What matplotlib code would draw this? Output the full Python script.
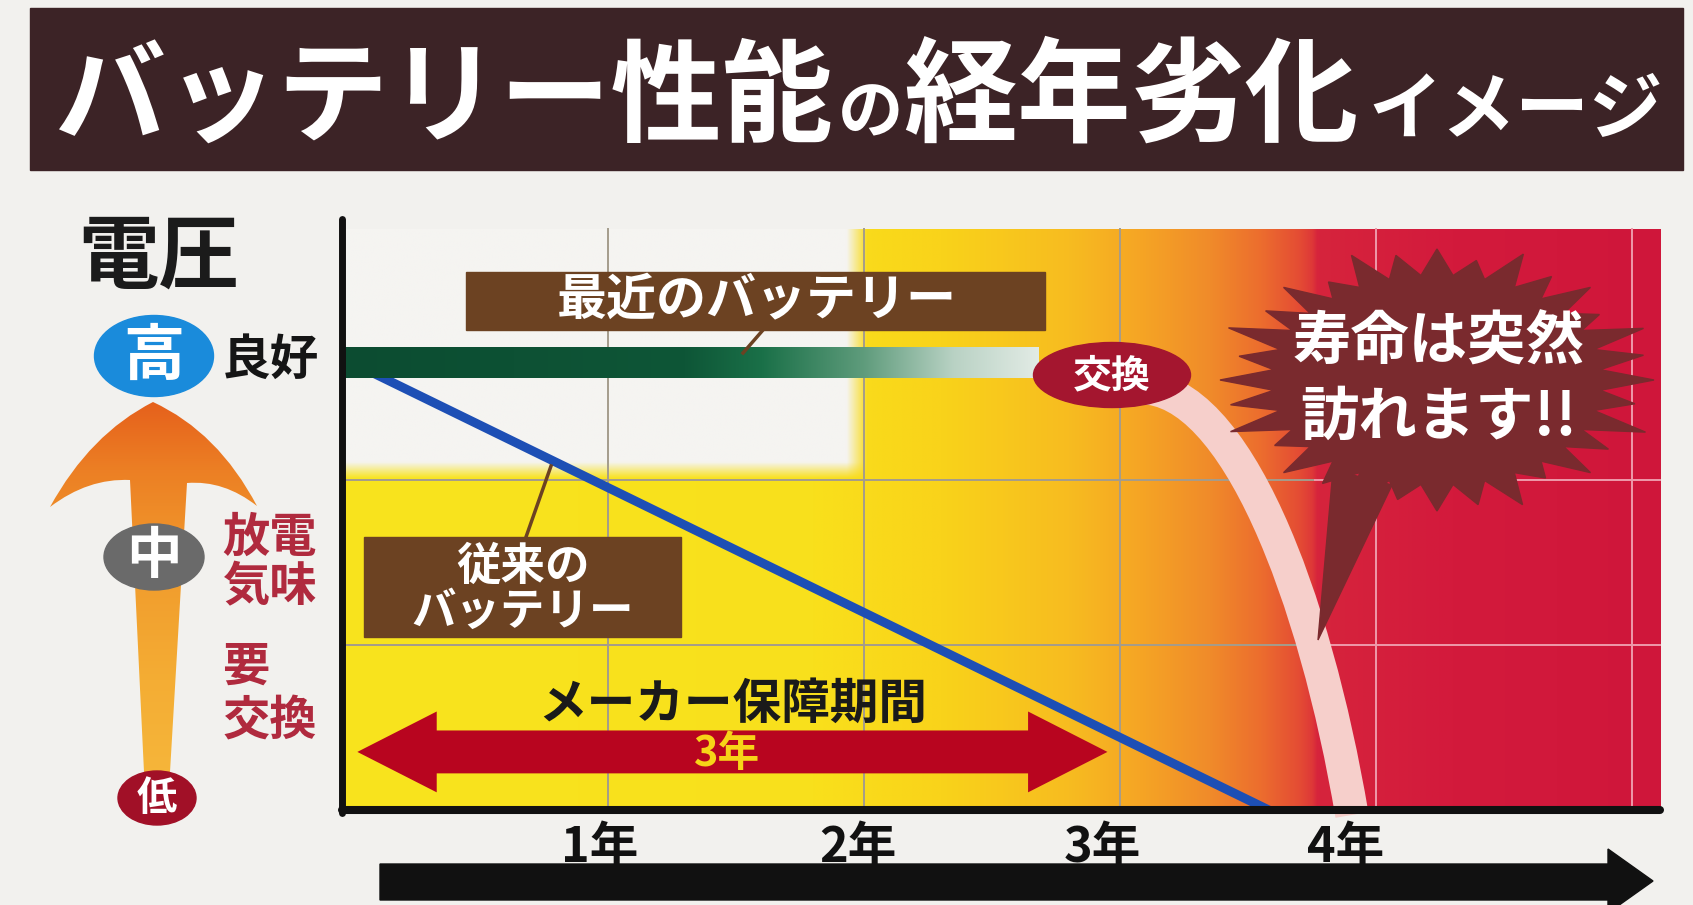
import numpy as np
import matplotlib
matplotlib.use('Agg')
import matplotlib.pyplot as plt
from matplotlib.patches import Rectangle, Ellipse, Polygon, PathPatch
from matplotlib.path import Path
from matplotlib.colors import to_rgb

plt.rcParams['font.family'] = ['Noto Sans CJK JP', 'DejaVu Sans']

W, H = 1693, 905

# ---- data (years on x, voltage level on y) ----
years = [1, 2, 3, 4]
year_labels = ['1年', '2年', '3年', '4年']
year_label_x = [0.965, 1.975, 2.93, 3.88]
grid_years = [1, 2, 3, 4, 5]
volt_grid = [1, 2]

new_level = 2.71           # 最近のバッテリー: stays flat...
new_end = 2.68             # ...until the 交換 point
old_x = [0, 3.58]          # 従来のバッテリー: steady decline
old_y = [2.71, 0.0]
# sudden drop after 交換: cubic curve (start, control, control, end)
drop_x = [3.08, 3.45, 3.76, 3.905]
drop_y = [2.56, 2.56, 1.30, -0.03]
warranty = [0.02, 2.95]    # メーカー保障期間 3年
warranty_v = 0.352

x_lo, x_hi = -0.04, 5.11
v_top = 3.52

fig = plt.figure(figsize=(W / 100, H / 100), dpi=100, facecolor='#f2f1ee')

# pixel-coordinate background axes
bg = fig.add_axes([0, 0, 1, 1], zorder=0)
bg.set_xlim(0, W)
bg.set_ylim(H, 0)
bg.axis('off')
P = bg.transData

# data axes placed so that year 0 -> px 352, 1 yr = 256 px, v 0 -> px 810, 1 v = 165 px
px_l, px_r, py_t, py_b = 330, 1670, 215, 820
ax = fig.add_axes([px_l / W, (H - py_b) / H, (px_r - px_l) / W, (py_b - py_t) / H], zorder=1)
ax.set_facecolor('none')
ax.axis('off')

# ---- title bar ----
bg.add_patch(Rectangle((30, 8), 1653, 162, color='#3c2326'))
tkw = dict(color='white', weight='bold', va='baseline', ha='left')
bg.text(55, 133, 'バッテリー性能', fontsize=80, **tkw)
bg.text(838, 133, 'の', fontsize=47, **tkw)
bg.text(903, 133, '経年劣化', fontsize=82, **tkw)
bg.text(1368, 133, 'イメージ', fontsize=53, **tkw)

# ---- left voltage legend ----
bg.text(159, 258, '電圧', fontsize=58, weight='bold', color='#1b1b1b', ha='center', va='center')

arrow_verts = [(153, 402), (218, 432), (257, 506), (224, 480), (187, 483), (170, 772),
               (144, 772), (130, 480), (88, 478), (50, 507), (90, 434), (153, 402)]
arrow_codes = [Path.MOVETO, Path.CURVE3, Path.CURVE3, Path.CURVE3, Path.CURVE3, Path.LINETO,
               Path.LINETO, Path.LINETO, Path.CURVE3, Path.CURVE3, Path.CURVE3, Path.CURVE3]
arrow_patch = PathPatch(Path(arrow_verts, arrow_codes), facecolor='none', edgecolor='none')
bg.add_patch(arrow_patch)
gy = np.array([395, 470, 560, 680, 800])
gc = np.array([to_rgb(c) for c in ['#e55d1b', '#ec7f24', '#f19a2c', '#f4ad34', '#f6b83c']])
rows = np.arange(395, 800)
grad = np.stack([np.interp(rows, gy, gc[:, k]) for k in range(3)], axis=-1)[:, None, :]
im = bg.imshow(grad, extent=[40, 270, 800, 395], origin='upper', aspect='auto', zorder=1)
im.set_clip_path(arrow_patch)
bg.set_xlim(0, W)
bg.set_ylim(H, 0)

bg.add_patch(Ellipse((154, 356), 119, 81, color='#1a8bdb', zorder=2))
bg.text(154, 357, '高', fontsize=44, weight='bold', color='white', ha='center', va='center', zorder=3)
bg.text(270, 360, '良好', fontsize=35, weight='bold', color='#151515', ha='center', va='center')

bg.add_patch(Ellipse((154, 557), 100, 66, color='#6a6a6a', zorder=2))
bg.text(154, 557, '中', fontsize=40, weight='bold', color='white', ha='center', va='center', zorder=3)
red_txt = '#b02a3e'
bg.text(270, 538, '放電', fontsize=34, weight='bold', color=red_txt, ha='center', va='center')
bg.text(270, 587, '気味', fontsize=34, weight='bold', color=red_txt, ha='center', va='center')
bg.text(222, 667, '要', fontsize=34, weight='bold', color=red_txt, ha='left', va='center')
bg.text(270, 721, '交換', fontsize=34, weight='bold', color=red_txt, ha='center', va='center')

bg.add_patch(Ellipse((157, 798), 78, 54, color='#a11027', zorder=2))
bg.text(157, 798, '低', fontsize=29, weight='bold', color='white', ha='center', va='center', zorder=3)

# bottom time arrow
bg.add_patch(Polygon([(380, 864), (1608, 864), (1608, 849), (1653, 881), (1608, 913),
                      (1608, 900), (380, 900)], closed=True, color='#111111'))

# ---- chart background gradient ----
stops_x = [x_lo, 1.8, 2.3, 2.8, 3.1, 3.35, 3.55, 3.7, 3.75, 3.77, 4.3, x_hi]
stops_c = ['#f8e41e', '#f9e01c', '#f9d31a', '#f7bc20', '#f5a325', '#f08b2a', '#ec6d2e',
           '#e44c34', '#de3838', '#d6243c', '#d31a3c', '#cf163a']
xs = np.linspace(x_lo, x_hi, 900)
vs = np.linspace(0, v_top, 300)
rgb = np.array([to_rgb(c) for c in stops_c])
row = np.stack([np.interp(xs, stops_x, rgb[:, k]) for k in range(3)], axis=-1)
img = np.repeat(row[None, :, :], len(vs), axis=0)
X, V = np.meshgrid(xs, vs)
mx = np.clip((1.97 - X) / 0.08 + 0.5, 0, 1)
my = np.clip((V - 2.06) / 0.1 + 0.5, 0, 1)
m = (mx * my)[..., None]
img = img * (1 - m) + np.array(to_rgb('#f5f4f1')) * m
ax.imshow(img, extent=[x_lo, x_hi, 0, v_top], origin='lower', aspect='auto',
          interpolation='bilinear', zorder=0)

# grid
for gx in grid_years:
    ax.plot([gx, gx], [0, v_top], color='#ee9aab' if gx >= 4 else '#a49c8c', lw=1.4, zorder=1)
for gv in volt_grid:
    ax.plot([x_lo, 3.76], [gv, gv], color='#a49c8c', lw=1.4, zorder=1)
    ax.plot([3.76, x_hi], [gv, gv], color='#ee9aab', lw=1.4, zorder=1)

# old battery (blue)
ax.plot(old_x, old_y, color='#1d4fb5', lw=6.5, solid_capstyle='butt', zorder=2)

# new battery (green band, fading)
g_stops = [x_lo, 1.3, 1.6, 2.0, 2.35, new_end]
g_cols = np.array([to_rgb(c) for c in ['#0c4c31', '#0e5637', '#1a7048', '#5f9c7c', '#b9d2c4', '#e2ebe5']])
gxs = np.linspace(x_lo, new_end, 400)
gband = np.stack([np.interp(gxs, g_stops, g_cols[:, k]) for k in range(3)], axis=-1)[None, :, :]
ax.imshow(gband, extent=[x_lo, new_end, new_level - 0.091, new_level + 0.091], origin='lower',
          aspect='auto', zorder=3)

# warranty double arrow
x0, x1 = warranty
c, hl, hh, sh = warranty_v, 0.31, 0.245, 0.13
ax.add_patch(Polygon([(x0, c), (x0 + hl, c + hh), (x0 + hl, c + sh), (x1 - hl, c + sh),
                      (x1 - hl, c + hh), (x1, c), (x1 - hl, c - hh), (x1 - hl, c - sh),
                      (x0 + hl, c - sh), (x0 + hl, c - hh)], closed=True,
                     facecolor='#b8051f', edgecolor='none', zorder=3))
ax.text((x0 + x1) / 2 - 0.02, c - 0.01, '3年', fontsize=30, weight='bold', color='#f7d417',
        ha='center', va='center', zorder=4)
ax.text((x0 + x1) / 2, 0.642, 'メーカー保障期間', fontsize=35, weight='bold', color='#1a1a1a',
        ha='center', va='center', zorder=4)

# sudden drop (pink band)
drop = Path(list(zip(drop_x, drop_y)), [Path.MOVETO, Path.CURVE4, Path.CURVE4, Path.CURVE4])
ax.add_patch(PathPatch(drop, facecolor='none', edgecolor='#f6cfcb', lw=24, capstyle='butt',
                       zorder=5))

# callout burst
cx, cy = 1437, 380
n = 32
scales = [1.0, 0.93, 1.04, 0.95, 1.0, 0.9, 1.03, 0.97]
burst = []
for i in range(2 * n):
    a = np.pi * i / n
    if i % 2 == 0:
        s = scales[(i // 2) % len(scales)]
        rx, ry = 217 * s, 131 * s
    else:
        rx, ry = 164, 105
    burst.append((cx + rx * np.cos(a), cy + ry * np.sin(a)))
ax.add_patch(Polygon(burst, closed=True, color='#7a2a2e', transform=P, clip_on=False, zorder=6))
ax.add_patch(Polygon([(1333, 470), (1318, 640), (1392, 485)], closed=True, color='#7a2a2e',
                     transform=P, clip_on=False, zorder=6))
ax.text(1439, 343, '寿命は突然', fontsize=42, weight='bold', color='white', ha='center',
        va='center', transform=P, zorder=8)
ax.text(1439, 418, '訪れます!!', fontsize=42, weight='bold', color='white', ha='center',
        va='center', transform=P, zorder=8)

# label boxes
brown = '#6c4222'
ax.add_patch(Rectangle((466, 272), 579, 58, color=brown, transform=P, clip_on=False, zorder=6))
ax.text(757, 301, '最近のバッテリー', fontsize=36, weight='bold', color='white', ha='center',
        va='center', transform=P, zorder=8)
ax.plot([763, 743], [330, 353], color=brown, lw=2.5, transform=P, clip_on=False, zorder=6)

ax.add_patch(Rectangle((364, 537), 317, 100, color=brown, transform=P, clip_on=False, zorder=6))
ax.text(523, 567, '従来の', fontsize=32, weight='bold', color='white', ha='center',
        va='center', transform=P, zorder=8)
ax.text(523, 612, 'バッテリー', fontsize=32, weight='bold', color='white', ha='center',
        va='center', transform=P, zorder=8)
ax.plot([526, 551], [537, 466], color=brown, lw=2.5, transform=P, clip_on=False, zorder=6)

# 交換 marker
ax.add_patch(Ellipse((1112, 375), 157, 65, color='#a4162f', transform=P, clip_on=False, zorder=7))
ax.text(1112, 376, '交換', fontsize=28, weight='bold', color='white', ha='center', va='center',
        transform=P, zorder=8)

# axes lines
ax.plot([x_lo, x_lo], [-0.02, 3.58], color='#111111', lw=5, solid_capstyle='round',
        clip_on=False, zorder=9)
ax.plot([x_lo, x_hi], [0, 0], color='#111111', lw=5.8, solid_capstyle='round',
        clip_on=False, zorder=9)

# year labels
for yx, lab in zip(year_label_x, year_labels):
    ax.text(yx, -0.23, lab, fontsize=35, weight='bold', color='#111111',
            ha='center', va='center', clip_on=False, zorder=9)

ax.set_xlim(x_lo + (px_l - 342) / 256, x_lo + (px_r - 342) / 256)
ax.set_ylim((810 - py_b) / 165, (810 - py_t) / 165)

fig.savefig('out.png', dpi=100, facecolor=fig.get_facecolor())
